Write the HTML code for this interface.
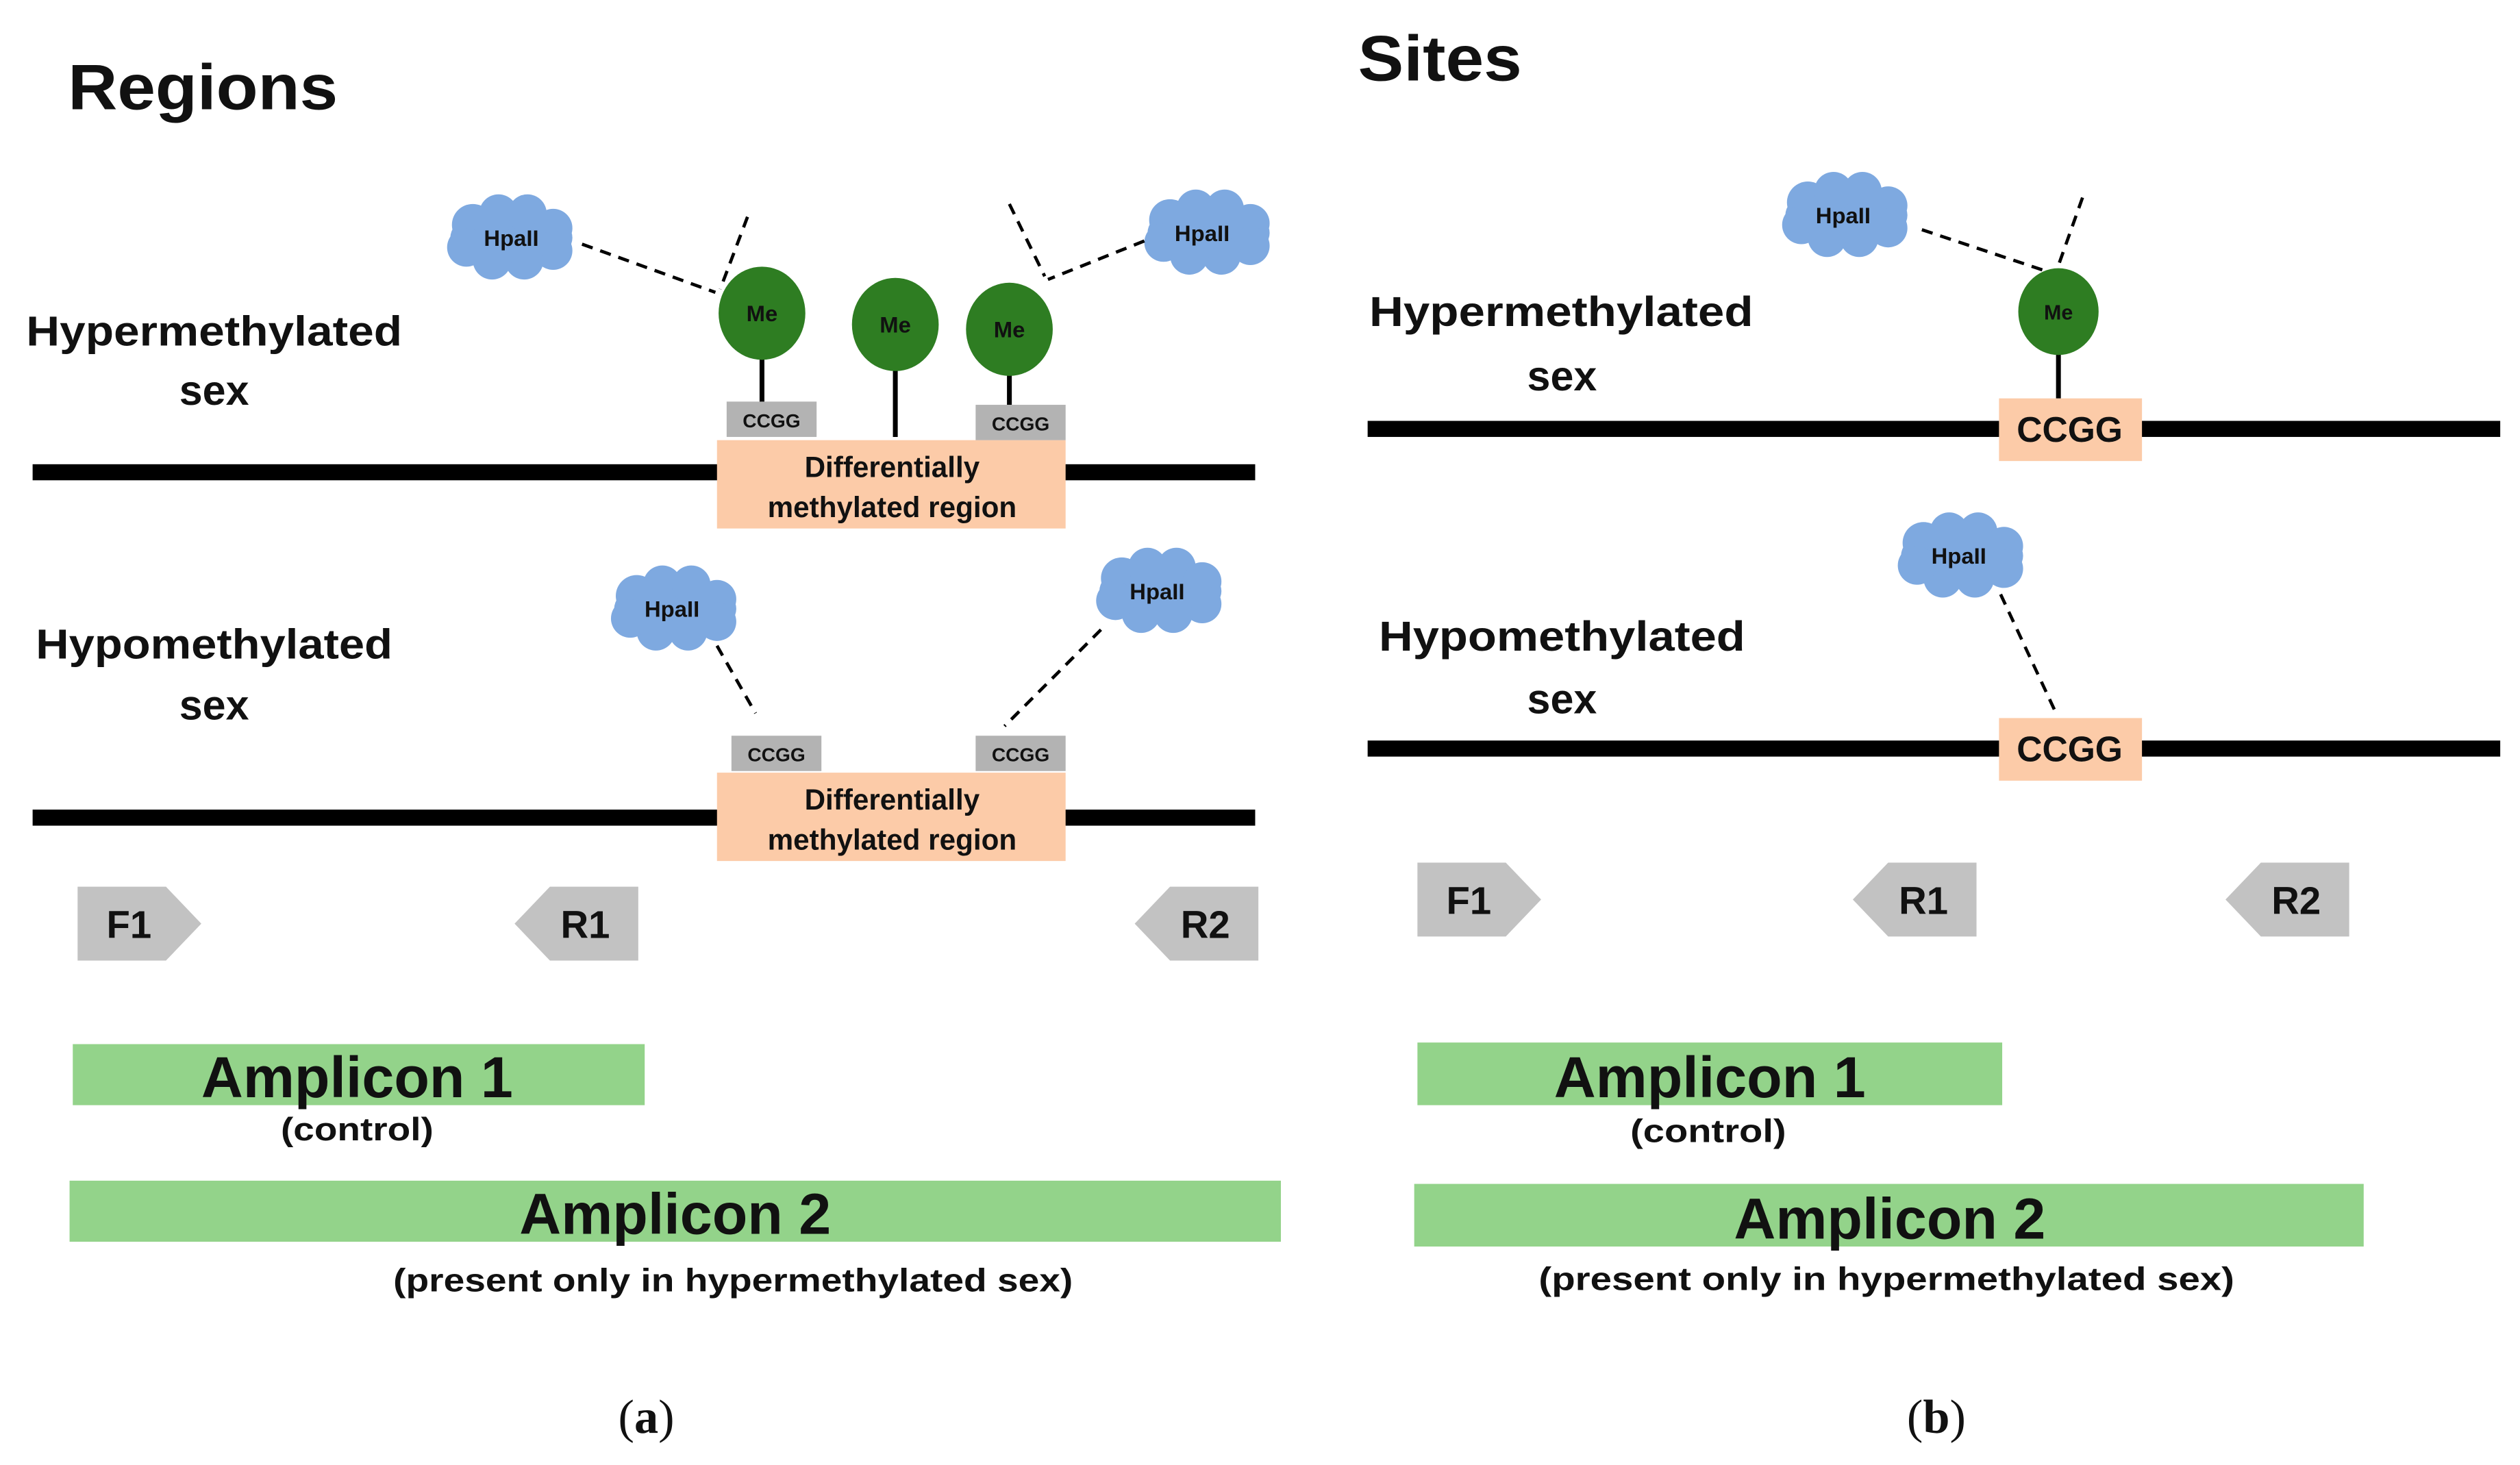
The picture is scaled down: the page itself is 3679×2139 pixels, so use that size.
<!DOCTYPE html>
<html><head><meta charset="utf-8"><style>
html,body{margin:0;padding:0;background:#fff}
svg{display:block}
text{font-family:"Liberation Sans",sans-serif;font-weight:bold;fill:#111}
</style></head><body>
<svg width="3679" height="2139" viewBox="0 0 1568 912" xmlns="http://www.w3.org/2000/svg">
<defs>
<g id="cl">
<ellipse cx="0" cy="0" rx="38" ry="20" fill="#7ea9e0"/>
<circle cx="-24" cy="-8" r="13" fill="#7ea9e0"/><circle cx="-8" cy="-15" r="12" fill="#7ea9e0"/>
<circle cx="10" cy="-15" r="12" fill="#7ea9e0"/><circle cx="26" cy="-6" r="12" fill="#7ea9e0"/>
<circle cx="26" cy="8" r="12" fill="#7ea9e0"/><circle cx="8" cy="14" r="12" fill="#7ea9e0"/>
<circle cx="-12" cy="14" r="12" fill="#7ea9e0"/><circle cx="-28" cy="6" r="12" fill="#7ea9e0"/>
</g>
</defs>
<g font-size="13">
<!-- Panel a -->
<text x="42" y="68" font-size="40" textLength="168" lengthAdjust="spacingAndGlyphs">Regions</text>
<text x="16" y="215" font-size="26" textLength="234" lengthAdjust="spacingAndGlyphs">Hypermethylated</text>
<text x="133" y="252" font-size="26" text-anchor="middle">sex</text>
<rect x="20" y="289" width="761" height="10" fill="#000"/>
<rect x="446" y="274" width="217" height="55" fill="#fccba8"/>
<text x="555" y="297" font-size="18" text-anchor="middle">Differentially</text>
<text x="555" y="322" font-size="18" text-anchor="middle">methylated region</text>
<rect x="452" y="250" width="56" height="22" fill="#b3b3b3"/><text x="480" y="266" font-size="12" text-anchor="middle">CCGG</text>
<rect x="607" y="252" width="56" height="22" fill="#b3b3b3"/><text x="635" y="268" font-size="12" text-anchor="middle">CCGG</text>
<g stroke="#000" stroke-width="3"><line x1="474" y1="222" x2="474" y2="250"/><line x1="557" y1="229" x2="557" y2="272"/><line x1="628" y1="232" x2="628" y2="252"/></g>
<ellipse cx="474" cy="195" rx="27" ry="29" fill="#2e7d22"/><text x="474" y="200" font-size="14" text-anchor="middle">Me</text>
<ellipse cx="557" cy="202" rx="27" ry="29" fill="#2e7d22"/><text x="557" y="207" font-size="14" text-anchor="middle">Me</text>
<ellipse cx="628" cy="205" rx="27" ry="29" fill="#2e7d22"/><text x="628" y="210" font-size="14" text-anchor="middle">Me</text>
<use href="#cl" x="318" y="148"/><text x="318" y="153" font-size="14" text-anchor="middle">HpaII</text>
<use href="#cl" x="752" y="145"/><text x="748" y="150" font-size="14" text-anchor="middle">HpaII</text>
<g stroke="#000" stroke-width="2" stroke-dasharray="7,5" fill="none">
<line x1="362" y1="152" x2="445" y2="182"/><line x1="465" y1="135" x2="448" y2="180"/>
<line x1="628" y1="127" x2="650" y2="172"/><line x1="712" y1="150" x2="652" y2="174"/>
<line x1="446" y1="402" x2="470" y2="444"/><line x1="685" y1="392" x2="625" y2="452"/>
<line x1="1196" y1="143" x2="1277" y2="170"/><line x1="1296" y1="123" x2="1280" y2="168"/>
<line x1="1245" y1="370" x2="1280" y2="445"/>
</g>
<text x="22" y="410" font-size="26" textLength="222" lengthAdjust="spacingAndGlyphs">Hypomethylated</text>
<text x="133" y="448" font-size="26" text-anchor="middle">sex</text>
<rect x="20" y="504" width="761" height="10" fill="#000"/>
<rect x="446" y="481" width="217" height="55" fill="#fccba8"/>
<text x="555" y="504" font-size="18" text-anchor="middle">Differentially</text>
<text x="555" y="529" font-size="18" text-anchor="middle">methylated region</text>
<rect x="455" y="458" width="56" height="22" fill="#b3b3b3"/><text x="483" y="474" font-size="12" text-anchor="middle">CCGG</text>
<rect x="607" y="458" width="56" height="22" fill="#b3b3b3"/><text x="635" y="474" font-size="12" text-anchor="middle">CCGG</text>
<use href="#cl" x="420" y="379"/><text x="418" y="384" font-size="14" text-anchor="middle">HpaII</text>
<use href="#cl" x="722" y="368"/><text x="720" y="373" font-size="14" text-anchor="middle">HpaII</text>
<polygon points="48,552 103,552 125,575 103,598 48,598" fill="#c2c2c2"/><text x="80" y="584" font-size="24" text-anchor="middle">F1</text>
<polygon points="397,552 342,552 320,575 342,598 397,598" fill="#c2c2c2"/><text x="364" y="584" font-size="24" text-anchor="middle">R1</text>
<polygon points="783,552 728,552 706,575 728,598 783,598" fill="#c2c2c2"/><text x="750" y="584" font-size="24" text-anchor="middle">R2</text>
<rect x="45" y="650" width="356" height="38" fill="#93d38a"/>
<text x="222" y="683" font-size="36" text-anchor="middle">Amplicon 1</text>
<text x="222" y="710" font-size="20" text-anchor="middle" textLength="95" lengthAdjust="spacingAndGlyphs">(control)</text>
<rect x="43" y="735" width="754" height="38" fill="#93d38a"/>
<text x="420" y="768" font-size="36" text-anchor="middle">Amplicon 2</text>
<text x="456" y="804" font-size="20" text-anchor="middle" textLength="423" lengthAdjust="spacingAndGlyphs">(present only in hypermethylated sex)</text>
<text x="402" y="892" font-size="30" text-anchor="middle" style="font-family:'Liberation Serif',serif;font-weight:normal">(<tspan font-weight="bold">a</tspan>)</text>
<!-- Panel b -->
<text x="845" y="50" font-size="40" textLength="102" lengthAdjust="spacingAndGlyphs">Sites</text>
<text x="852" y="203" font-size="26" textLength="239" lengthAdjust="spacingAndGlyphs">Hypermethylated</text>
<text x="972" y="243" font-size="26" text-anchor="middle">sex</text>
<rect x="851" y="262" width="705" height="10" fill="#000"/>
<rect x="1244" y="248" width="89" height="39" fill="#fccba8"/><text x="1288" y="275" font-size="22" text-anchor="middle">CCGG</text>
<line x1="1281" y1="219" x2="1281" y2="248" stroke="#000" stroke-width="3"/>
<ellipse cx="1281" cy="194" rx="25" ry="27" fill="#2e7d22"/><text x="1281" y="199" font-size="13" text-anchor="middle">Me</text>
<use href="#cl" x="1149" y="134"/><text x="1147" y="139" font-size="14" text-anchor="middle">HpaII</text>
<text x="858" y="405" font-size="26" textLength="228" lengthAdjust="spacingAndGlyphs">Hypomethylated</text>
<text x="972" y="444" font-size="26" text-anchor="middle">sex</text>
<rect x="851" y="461" width="705" height="10" fill="#000"/>
<rect x="1244" y="447" width="89" height="39" fill="#fccba8"/><text x="1288" y="474" font-size="22" text-anchor="middle">CCGG</text>
<use href="#cl" x="1221" y="346"/><text x="1219" y="351" font-size="14" text-anchor="middle">HpaII</text>
<polygon points="882,537 937,537 959,560 937,583 882,583" fill="#c2c2c2"/><text x="914" y="569" font-size="24" text-anchor="middle">F1</text>
<polygon points="1230,537 1175,537 1153,560 1175,583 1230,583" fill="#c2c2c2"/><text x="1197" y="569" font-size="24" text-anchor="middle">R1</text>
<polygon points="1462,537 1407,537 1385,560 1407,583 1462,583" fill="#c2c2c2"/><text x="1429" y="569" font-size="24" text-anchor="middle">R2</text>
<rect x="882" y="649" width="364" height="39" fill="#93d38a"/>
<text x="1064" y="683" font-size="36" text-anchor="middle">Amplicon 1</text>
<text x="1063" y="711" font-size="20" text-anchor="middle" textLength="97" lengthAdjust="spacingAndGlyphs">(control)</text>
<rect x="880" y="737" width="591" height="39" fill="#93d38a"/>
<text x="1176" y="771" font-size="36" text-anchor="middle">Amplicon 2</text>
<text x="1174" y="803" font-size="20" text-anchor="middle" textLength="433" lengthAdjust="spacingAndGlyphs">(present only in hypermethylated sex)</text>
<text x="1205" y="892" font-size="30" text-anchor="middle" style="font-family:'Liberation Serif',serif;font-weight:normal">(<tspan font-weight="bold">b</tspan>)</text>
</g>
</svg>
</body></html>
